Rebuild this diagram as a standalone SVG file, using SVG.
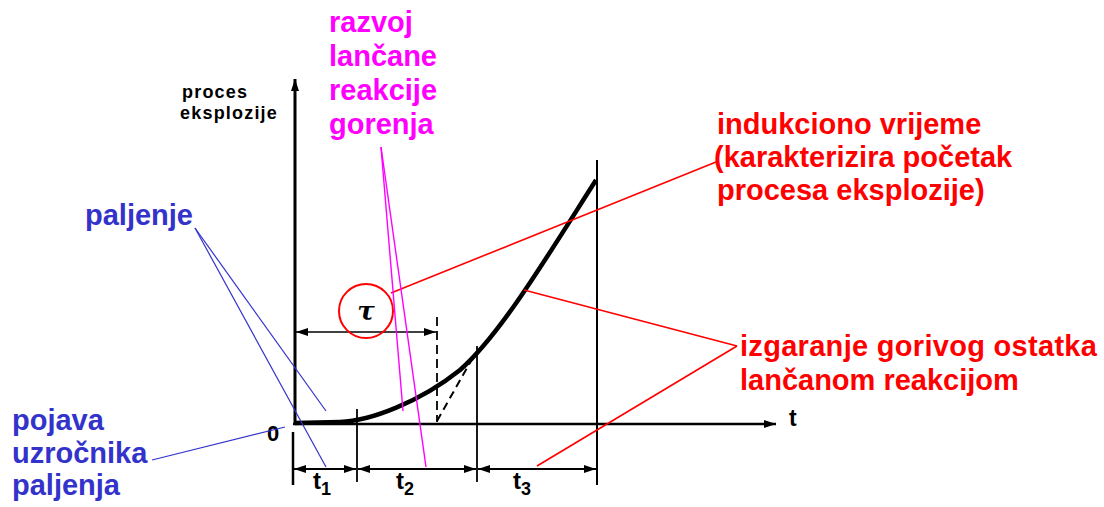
<svg xmlns="http://www.w3.org/2000/svg" width="1104" height="507" viewBox="0 0 1104 507">
<style>
.lbl{font-family:"Liberation Sans",Arial,sans-serif;font-weight:bold;font-size:29px}
.red{fill:#ff0000}.blue{fill:#3333cc}.mag{fill:#ff00ff}
.ax{font-family:"Liberation Sans",Arial,sans-serif;font-weight:bold;fill:#000}
.k{stroke:#000;fill:none}
.rl{stroke:#ff0000;stroke-width:1.6;fill:none}
.bl{stroke:#3333cc;stroke-width:1.2;fill:none}
.ml{stroke:#ff00ff;stroke-width:1.4;fill:none}
</style>
<defs>
<marker id="ah" viewBox="0 0 12 8" refX="12" refY="4" markerWidth="12" markerHeight="8" markerUnits="userSpaceOnUse" orient="auto-start-reverse">
<path d="M0,0 L12,4 L0,8 Z" fill="#000"/>
</marker>
</defs>
<rect width="1104" height="507" fill="#fff"/>

<g id="axes">
<line class="k" x1="295" y1="423" x2="295" y2="79" stroke-width="3" marker-end="url(#ah)"/>
<line class="k" x1="293" y1="424" x2="776" y2="424" stroke-width="2.5" marker-end="url(#ah)"/>
<text class="ax" x="182" y="98" font-size="18" letter-spacing="1.2">proces</text>
<text class="ax" x="180" y="119" font-size="18" letter-spacing="1.2">eksplozije</text>
<text class="ax" x="267" y="441" font-size="22">0</text>
<text class="ax" x="789" y="426" font-size="23">t</text>
</g>

<g id="ticks">
<line class="k" x1="293" y1="432" x2="293" y2="485" stroke-width="2.5"/>
<line class="k" x1="357" y1="409" x2="357" y2="482" stroke-width="1.8"/>
<line class="k" x1="477" y1="346" x2="477" y2="482" stroke-width="1.8"/>
<line class="k" x1="597" y1="160" x2="597" y2="485" stroke-width="2"/>
<line class="k" x1="437" y1="317" x2="437" y2="422" stroke-width="1.8" stroke-dasharray="9,5"/>
</g>

<g id="curve">
<path class="k" d="M295,423 L340,422 C370,421 420,402 460,370 C500,335 545,260 596,180" stroke-width="4.5"/>
<line class="k" x1="437" y1="421" x2="476" y2="352" stroke-width="2" stroke-dasharray="8,5"/>
</g>

<g id="dimensions">
<line class="k" x1="296" y1="332" x2="436" y2="332" stroke-width="1.6" marker-start="url(#ah)" marker-end="url(#ah)"/>
<line class="k" x1="294" y1="469" x2="356" y2="469" stroke-width="1.8" marker-start="url(#ah)" marker-end="url(#ah)"/>
<line class="k" x1="358" y1="469" x2="476" y2="469" stroke-width="1.8" marker-start="url(#ah)" marker-end="url(#ah)"/>
<line class="k" x1="478" y1="469" x2="596" y2="469" stroke-width="1.8" marker-start="url(#ah)" marker-end="url(#ah)"/>
<text class="ax" x="313" y="489" font-size="24">t<tspan font-size="18" dy="6">1</tspan></text>
<text class="ax" x="396" y="489" font-size="24">t<tspan font-size="18" dy="6">2</tspan></text>
<text class="ax" x="513" y="489" font-size="24">t<tspan font-size="18" dy="6">3</tspan></text>
</g>

<g id="tau">
<circle cx="366" cy="311" r="27" fill="none" stroke="#ff0000" stroke-width="2"/>
<text x="366" y="320" text-anchor="middle" font-family="'DejaVu Serif',serif" font-style="italic" font-weight="bold" font-size="26" fill="#000">τ</text>
</g>

<g id="connectors">
<line class="rl" x1="391" y1="293" x2="716" y2="162"/>
<line class="rl" x1="524" y1="290" x2="737" y2="346"/>
<line class="rl" x1="537" y1="466" x2="737" y2="346"/>
<line class="ml" x1="381" y1="147" x2="403" y2="411"/>
<line class="ml" x1="381" y1="147" x2="426" y2="467"/>
<line class="bl" x1="195" y1="228" x2="326" y2="411"/>
<line class="bl" x1="195" y1="228" x2="326" y2="467"/>
<line class="bl" x1="152" y1="460" x2="285" y2="427"/>
</g>

<g id="label-induction">
<text class="lbl red" x="717" y="134" font-size="30">indukciono vrijeme</text>
<text class="lbl red" x="714" y="167" font-size="30">(karakterizira početak</text>
<text class="lbl red" x="717" y="200" font-size="30">procesa eksplozije)</text>
</g>

<g id="label-combustion">
<text class="lbl red" x="740" y="356" font-size="30" letter-spacing="0.3">izgaranje gorivog ostatka</text>
<text class="lbl red" x="740" y="390" font-size="30">lančanom reakcijom</text>
</g>

<g id="label-chain">
<text class="lbl mag" x="329" y="32">razvoj</text>
<text class="lbl mag" x="329" y="66">lančane</text>
<text class="lbl mag" x="329" y="100">reakcije</text>
<text class="lbl mag" x="329" y="134">gorenja</text>
</g>

<g id="label-ignition">
<text class="lbl blue" x="85" y="225">paljenje</text>
</g>

<g id="label-source">
<text class="lbl blue" x="12" y="430">pojava</text>
<text class="lbl blue" x="12" y="463">uzročnika</text>
<text class="lbl blue" x="12" y="495">paljenja</text>
</g>
</svg>
